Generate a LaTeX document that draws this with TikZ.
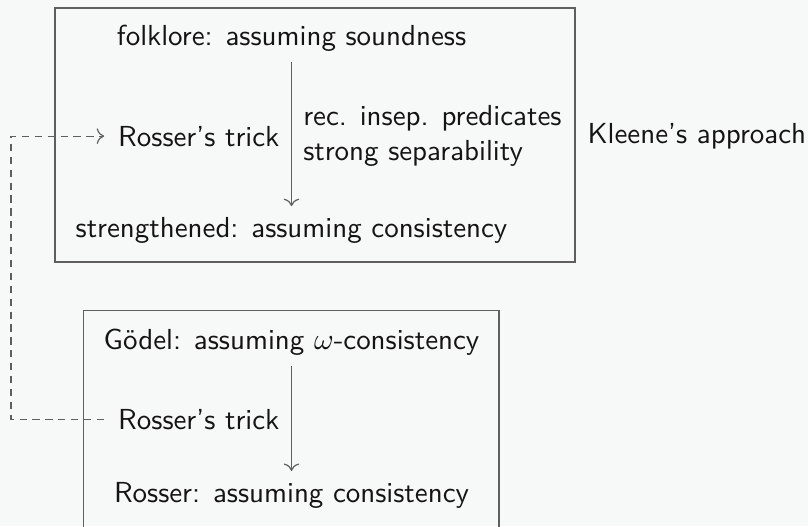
\documentclass[tikz,border=0pt]{standalone}
\usepackage{fontspec}
\usetikzlibrary{arrows.meta}
\definecolor{bgc}{RGB}{247,248,248}
\definecolor{linec}{RGB}{95,95,95}
\definecolor{txtc}{RGB}{20,20,20}
\begin{document}
\begin{tikzpicture}[x=0.33333pt,y=-0.33333pt,
  every node/.style={font=\sffamily\fontsize{9.65}{11.6}\selectfont, text=txtc},
  lbl/.style={inner sep=0pt, anchor=base},
  frame/.style={draw=linec, line width=0.5pt},
  conn/.style={draw=linec, line width=0.4pt, ->},
  dconn/.style={draw=linec, line width=0.4pt, dash pattern=on 2.4pt off 1.9pt}
]
\fill[bgc] (0,0) rectangle (808,526);
\useasboundingbox (0,0) rectangle (808,526);
% frames
\draw[frame] (55,8) rectangle (575,262);
\draw[frame] (83.5,310.5) rectangle (499,540);
% top box
\node[lbl] (f) at (291.5,45) {folklore: assuming soundness};
\node[lbl, anchor=base east, inner xsep=4.5pt] (r1) at (293.5,146) {Rosser's trick};
\node[lbl, anchor=base west] (l1) at (302.7,125) {rec. insep. predicates};
\node[lbl, anchor=base west] (l2) at (302.7,160) {strong separability};
\node[lbl] (s) at (291.5,237) {strengthened: assuming consistency};
\node[lbl, anchor=base west] (k) at (587,143) {Kleene's approach};
% bottom box
\node[lbl] (g) at (291.5,349) {Gödel: assuming $\omega$-consistency};
\node[lbl, anchor=base east, inner xsep=4.5pt] (r2) at (293.5,429) {Rosser's trick};
\node[lbl] (ro) at (291.5,502.7) {Rosser: assuming consistency};
% arrows
\draw[conn, shorten <=3.6pt, shorten >=3.4pt] (f.south) -- (s.north);
\draw[conn, shorten <=3.4pt, shorten >=3.7pt] (g.south) -- (ro.north);
\coordinate (c) at (11,418);
\draw[dconn, ->] (r2.west) -- (r2.west -| c) |- (r1.west);
\end{tikzpicture}
\end{document}
